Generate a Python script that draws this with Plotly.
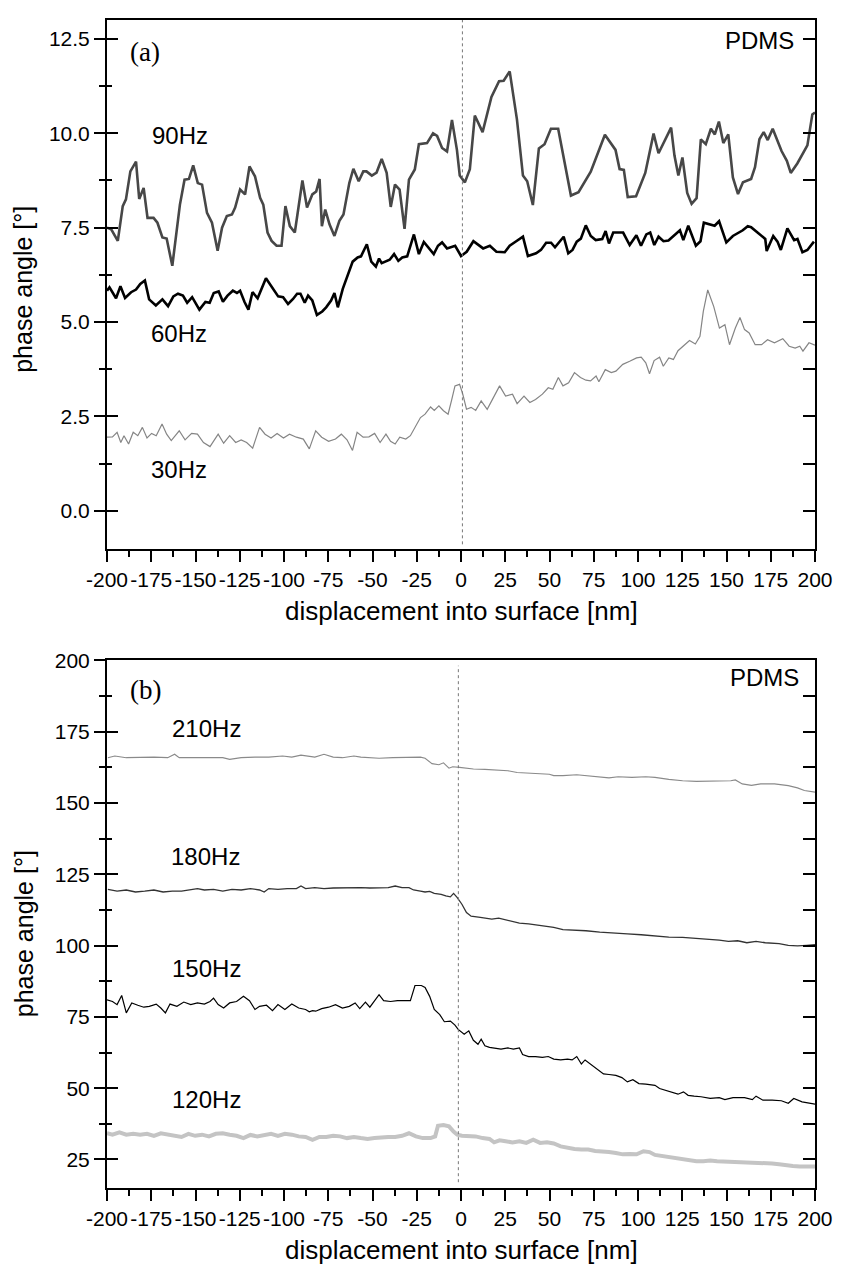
import plotly.graph_objects as go

# ---------------- data (displacement [nm], phase angle [deg]) ----------------
hz90 = [(-200.0,7.50),(-197.7,7.46),(-193.9,7.15),(-191.1,8.07),(-189.3,8.25),(-186.8,8.99),(-183.6,9.25),(-181.8,8.26),(-179.3,8.55),(-177.1,7.76),(-173.7,7.76),(-171.5,7.63),(-168.7,7.24),(-166.3,7.21),(-163.1,6.49),(-161.2,7.28),(-158.8,8.11),(-156.2,8.77),(-153.7,8.79),(-151.3,9.15),(-148.7,8.68),(-146.3,8.64),(-143.5,7.89),(-140.7,7.63),(-137.5,6.89),(-135.0,7.50),(-132.3,7.81),(-129.4,7.85),(-127.6,8.03),(-124.8,8.51),(-122.0,8.38),(-119.5,9.12),(-116.4,8.86),(-113.5,8.29),(-111.7,8.11),(-109.3,7.37),(-107.0,7.15),(-104.2,7.02),(-101.4,7.02),(-99.2,8.07),(-96.7,7.54),(-93.9,7.37),(-89.6,8.75),(-87.0,8.03),(-84.0,8.38),(-81.8,8.46),(-79.9,8.79),(-78.6,7.54),(-76.7,7.98),(-74.3,7.59),(-71.5,7.28),(-68.7,7.68),(-66.4,7.85),(-63.1,8.68),(-60.8,9.06),(-57.8,8.73),(-55.2,8.99),(-53.4,8.99),(-50.4,8.88),(-47.7,8.96),(-44.8,9.32),(-42.0,8.95),(-39.7,8.05),(-37.3,8.64),(-34.7,8.51),(-31.9,7.47),(-29.4,8.77),(-26.1,9.04),(-23.8,9.71),(-19.2,9.74),(-15.8,10.00),(-13.5,9.93),(-10.7,9.61),(-7.9,9.52),(-5.1,10.35),(-2.3,9.56),(-0.7,8.88),(2.2,8.70),(5.0,9.05),(7.8,10.47),(12.2,10.03),(17.2,10.96),(21.5,11.38),(24.1,11.39),(27.5,11.64),(31.6,10.37),(35.0,8.88),(37.4,8.73),(40.6,8.10),(44.0,9.60),(47.2,9.71),(50.8,10.12),(54.9,10.12),(62.1,8.35),(66.4,8.44),(73.3,8.98),(81.3,9.96),(87.3,9.56),(89.6,9.05),(92.0,9.03),(94.2,8.31),(98.9,8.33),(104.1,8.95),(108.8,9.99),(111.6,9.47),(118.7,10.15),(120.6,9.41),(122.8,8.88),(125.1,9.36),(127.8,8.42),(130.3,8.13),(133.1,8.28),(135.5,9.84),(138.3,9.71),(141.2,10.12),(143.4,9.97),(145.7,10.31),(148.2,9.74),(151.0,9.97),(153.6,8.83),(156.5,8.39),(159.3,8.70),(163.9,8.79),(166.1,9.10),(168.6,9.84),(171.0,10.03),(173.3,9.82),(176.1,10.12),(181.1,9.53),(184.1,9.27),(186.3,8.95),(190.0,9.20),(195.7,9.68),(198.5,10.50),(200.0,10.55)]

hz60 = [(-200.0,5.83),(-198.6,5.92),(-194.9,5.63),(-192.4,5.95),(-189.8,5.64),(-186.4,5.79),(-183.6,5.86),(-181.2,6.01),(-178.6,6.10),(-176.2,5.60),(-172.4,5.44),(-168.7,5.60),(-165.5,5.42),(-162.5,5.68),(-159.9,5.75),(-157.1,5.70),(-154.7,5.51),(-151.9,5.66),(-147.8,5.33),(-144.4,5.53),(-142.0,5.51),(-139.7,5.77),(-136.9,5.81),(-134.5,5.54),(-131.9,5.70),(-128.9,5.83),(-126.6,5.77),(-124.8,5.83),(-122.3,5.53),(-120.1,5.33),(-117.8,5.79),(-114.9,5.63),(-110.2,6.16),(-106.4,5.88),(-103.3,5.68),(-100.5,5.66),(-97.7,5.48),(-94.9,5.61),(-92.6,5.75),(-90.7,5.75),(-88.3,5.51),(-86.4,5.70),(-84.0,5.57),(-81.4,5.19),(-78.4,5.28),(-76.2,5.39),(-73.4,5.57),(-71.5,5.77),(-69.6,5.39),(-66.8,5.88),(-64.0,6.27),(-61.2,6.60),(-58.4,6.71),(-56.5,6.74),(-53.2,7.06),(-50.7,6.60),(-48.1,6.47),(-46.3,6.68),(-44.8,6.56),(-42.5,6.60),(-40.3,6.65),(-37.8,6.80),(-35.4,6.62),(-33.2,6.71),(-30.4,6.74),(-26.6,7.32),(-23.8,6.80),(-21.0,7.12),(-18.2,6.97),(-15.4,6.80),(-13.0,7.02),(-10.7,7.11),(-7.9,6.95),(-3.3,7.02),(0.0,6.75),(3.2,6.86),(7.0,7.14),(12.5,6.95),(16.3,7.02),(20.0,6.86),(24.7,6.85),(27.5,7.02),(31.2,7.14),(35.0,7.26),(37.8,6.75),(42.4,6.82),(45.2,6.91),(48.1,7.10),(50.9,7.10),(53.1,6.98),(58.0,7.26),(60.6,6.82),(63.0,6.91),(65.4,7.13),(67.7,7.21),(70.5,7.56),(73.3,7.28),(76.1,7.17),(79.8,7.20),(81.7,7.41),(83.6,7.08),(86.0,7.37),(91.6,7.37),(95.3,7.04),(99.1,7.30),(101.7,7.02),(104.7,7.32),(106.9,7.37),(109.2,7.04),(111.6,7.26),(114.4,7.14),(117.2,7.16),(123.7,7.43),(125.6,7.17),(128.4,7.55),(132.7,7.02),(135.3,7.14),(137.2,7.63),(143.3,7.55),(145.8,7.67),(149.9,7.11),(153.6,7.28),(159.2,7.43),(162.0,7.54),(163.9,7.51),(169.5,7.28),(171.9,7.20),(172.7,6.88),(176.4,7.28),(178.8,7.13),(180.7,6.91),(184.4,7.48),(188.2,7.17),(190.1,7.20),(192.9,6.85),(195.7,6.91),(199.4,7.13)]

hz30 = [(-200.0,1.95),(-196.9,1.96),(-194.3,2.08),(-192.2,1.81),(-190.4,1.99),(-187.8,1.77),(-185.2,2.08),(-182.6,1.99),(-180.0,2.21),(-177.4,1.93),(-174.8,2.05),(-172.2,1.99),(-168.9,2.30),(-166.3,2.03),(-163.7,1.86),(-159.2,2.12),(-155.9,1.88),(-152.2,2.05),(-148.9,2.03),(-145.5,1.81),(-141.8,1.70),(-137.2,2.03),(-134.1,1.79),(-130.7,1.99),(-127.3,1.81),(-124.2,1.88),(-121.1,1.81),(-117.7,1.66),(-113.8,2.21),(-110.7,2.03),(-107.3,1.93),(-103.9,2.05),(-100.3,1.93),(-96.9,2.03),(-93.0,1.95),(-89.1,1.90),(-85.7,1.64),(-82.1,2.12),(-78.7,1.95),(-74.8,1.84),(-70.9,1.90),(-67.6,2.03),(-64.4,1.88),(-61.3,1.60),(-58.7,2.08),(-55.3,1.95),(-52.0,1.96),(-48.8,2.05),(-45.7,1.81),(-42.4,2.03),(-39.8,1.84),(-37.2,1.77),(-34.6,1.95),(-31.2,1.90),(-28.6,1.99),(-26.0,2.21),(-22.9,2.47),(-20.3,2.56),(-17.2,2.75),(-15.1,2.66),(-12.5,2.78),(-9.9,2.65),(-7.3,2.56),(-5.2,2.95),(-3.4,3.31),(-0.8,3.35),(1.0,3.09),(3.1,2.69),(5.7,2.74),(8.3,2.66),(11.4,2.91),(14.8,2.69),(18.2,3.00),(21.8,3.31),(25.2,3.04),(29.1,3.09),(31.7,2.84),(35.6,3.04),(38.9,2.87),(42.1,2.95),(46.0,3.09),(49.3,3.26),(51.9,3.22),(55.0,3.53),(57.6,3.31),(60.8,3.39),(64.1,3.66),(67.5,3.53),(70.6,3.46),(73.2,3.44),(76.3,3.57),(77.9,3.42),(81.5,3.74),(84.9,3.66),(87.5,3.70),(91.4,3.88),(95.3,3.96),(99.2,4.05),(101.8,4.07),(104.4,3.92),(106.5,3.63),(109.1,3.98),(112.2,4.07),(114.3,3.83),(117.4,4.05),(120.0,4.01),(122.6,4.24),(125.7,4.36),(129.1,4.51),(132.4,4.42),(135.0,4.62),(136.9,5.28),(139.4,5.85),(142.8,5.41),(146.0,4.84),(149.1,4.93),(151.7,4.40),(155.0,4.84),(157.6,5.12),(160.2,4.80),(162.8,4.71),(166.2,4.40),(169.8,4.40),(173.2,4.53),(177.1,4.45),(181.8,4.56),(185.4,4.36),(188.8,4.31),(191.4,4.36),(193.2,4.23),(196.6,4.45),(200.0,4.39)]

hz210 = [(-199.5,165.9),(-195.6,166.5),(-189.1,165.9),(-181.3,166.1),(-173.5,166.1),(-165.7,165.9),(-161.8,167.1),(-159.2,165.9),(-150.2,165.9),(-142.4,166.1),(-134.6,165.9),(-130.7,165.3),(-124.2,165.9),(-116.4,166.1),(-108.6,166.1),(-100.8,166.5),(-95.6,166.1),(-90.4,166.8),(-82.6,166.1),(-77.4,167.1),(-72.2,166.1),(-67.0,165.9),(-60.5,166.5),(-56.6,166.1),(-51.5,165.9),(-46.3,165.7),(-38.5,165.9),(-30.7,166.1),(-22.9,166.1),(-20.3,165.7),(-16.4,163.8),(-12.5,163.4),(-9.9,164.1),(-6.8,162.2),(-4.7,162.7),(-0.8,162.5),(3.1,162.2),(7.0,161.9),(13.5,161.8),(21.3,161.5),(26.5,161.3),(31.7,160.7),(42.1,160.4),(49.9,160.1),(52.4,159.6),(57.6,159.6),(65.4,159.9),(70.6,159.6),(78.4,159.2),(83.6,158.8),(88.8,159.2),(96.6,159.0),(104.4,159.2),(109.6,159.0),(117.4,158.3),(125.2,157.8),(133.0,157.6),(143.4,157.6),(152.4,157.8),(155.0,158.1),(158.9,156.7),(164.1,156.2),(169.3,156.7),(177.1,156.7),(184.9,156.1),(190.1,155.3),(194.0,154.4),(200.0,153.8)]

hz180 = [(-199.5,119.7),(-194.3,119.1),(-189.1,119.5),(-183.9,118.8),(-178.7,119.1),(-173.5,119.5),(-168.3,118.8),(-163.1,119.1),(-157.9,119.1),(-152.7,119.5),(-148.9,120.0),(-145.0,119.5),(-139.8,119.7),(-134.6,119.1),(-129.4,119.7),(-124.2,119.5),(-119.0,120.0),(-113.8,119.5),(-111.2,118.8),(-108.6,120.0),(-103.4,119.7),(-98.2,120.0),(-93.0,120.0),(-90.4,120.9),(-87.8,120.0),(-82.6,120.3),(-77.4,120.0),(-72.2,120.2),(-67.0,120.3),(-61.8,120.2),(-56.6,120.3),(-51.5,120.2),(-46.3,120.3),(-41.1,120.3),(-37.2,120.9),(-33.3,120.3),(-29.4,120.3),(-26.8,119.5),(-22.9,119.1),(-20.3,118.8),(-17.7,119.0),(-15.1,118.3),(-11.2,118.0),(-8.6,117.4),(-6.0,117.1),(-4.2,118.3),(-2.1,116.8),(0.5,114.5),(3.1,111.6),(5.7,110.3),(10.9,109.9),(17.4,109.3),(21.3,109.6),(26.5,108.8),(33.0,107.9),(38.2,107.6),(43.4,107.2),(47.3,106.8),(52.4,106.4),(57.6,105.6),(62.8,105.5),(70.6,105.2),(78.4,104.7),(86.2,104.5),(94.0,104.1),(101.8,103.8),(109.6,103.3),(117.4,103.0),(125.2,102.9),(133.0,102.6),(140.8,102.2),(145.9,101.9),(151.1,101.5),(156.3,101.7),(161.5,101.0),(166.7,101.5),(171.9,101.0),(179.7,100.7),(184.9,100.1),(190.1,99.9),(195.3,100.1),(200.0,100.3)]

hz150 = [(-200.0,81.0),(-196.9,80.4),(-194.3,79.3),(-191.7,82.5),(-189.1,76.4),(-186.0,79.9),(-182.6,79.1),(-179.2,78.4),(-176.1,78.7),(-172.2,79.5),(-169.6,78.1),(-167.0,76.4),(-164.4,79.5),(-160.5,78.7),(-156.6,80.2),(-152.7,79.3),(-148.9,79.9),(-145.0,79.5),(-141.8,80.4),(-139.8,81.6),(-137.2,79.3),(-134.1,78.1),(-130.7,79.9),(-126.8,80.4),(-122.9,82.2),(-119.5,80.7),(-116.4,77.6),(-113.8,78.7),(-109.9,79.1),(-106.5,77.2),(-103.4,79.3),(-99.5,77.6),(-95.6,79.5),(-91.7,78.1),(-87.8,77.6),(-85.7,76.8),(-83.9,77.2),(-82.1,77.0),(-78.7,77.9),(-74.8,78.4),(-70.9,79.3),(-67.0,78.1),(-63.1,78.7),(-59.8,79.9),(-57.2,77.9),(-54.0,80.2),(-51.5,78.4),(-48.9,80.7),(-46.3,82.8),(-43.7,80.7),(-39.8,80.4),(-35.9,80.7),(-28.6,80.7),(-26.0,86.0),(-22.4,86.0),(-20.3,85.3),(-17.7,82.2),(-15.1,77.6),(-12.0,75.8),(-9.4,73.3),(-6.0,73.5),(-3.4,72.1),(-1.6,70.6),(1.8,68.9),(4.4,70.1),(7.0,66.8),(9.6,65.4),(11.4,67.2),(13.5,64.9),(16.1,64.3),(18.7,64.1),(22.6,63.7),(26.5,64.1),(29.6,63.7),(33.0,64.1),(34.8,61.8),(38.2,61.1),(42.1,61.1),(46.0,60.8),(49.3,61.1),(52.4,60.2),(56.3,59.9),(60.2,60.2),(62.8,59.9),(65.4,61.1),(68.0,58.5),(70.1,59.9),(73.2,58.5),(77.1,56.8),(80.5,55.0),(83.6,54.8),(87.5,54.5),(90.9,53.7),(94.0,52.2),(97.1,53.0),(100.5,51.6),(104.4,51.4),(109.6,51.0),(112.2,49.9),(115.3,49.3),(118.7,48.4),(122.6,47.9),(125.7,48.7),(128.3,47.5),(131.7,47.2),(135.6,47.0),(140.8,46.4),(145.9,46.7),(149.1,46.0),(153.7,46.7),(160.2,46.7),(164.6,46.0),(166.7,47.2),(170.6,45.8),(175.8,45.8),(181.0,45.6),(184.9,44.7),(188.0,46.4),(192.7,45.2),(196.6,44.7),(200.0,44.4)]

hz120 = [(-200.0,34.2),(-196.9,33.7),(-193.0,34.5),(-189.1,33.7),(-185.2,34.0),(-181.3,33.7),(-177.4,34.0),(-173.5,33.3),(-169.6,34.2),(-165.7,33.7),(-161.8,33.3),(-157.9,32.9),(-154.0,34.0),(-150.2,33.3),(-146.3,33.7),(-142.4,33.1),(-138.5,34.0),(-134.6,34.2),(-130.7,33.7),(-126.8,33.3),(-122.9,32.5),(-119.0,33.6),(-115.1,33.1),(-111.2,33.7),(-107.3,34.0),(-103.4,33.3),(-99.5,34.0),(-95.6,33.7),(-91.7,33.1),(-87.8,32.9),(-83.9,31.9),(-80.0,32.9),(-76.1,32.9),(-72.2,33.3),(-68.3,33.1),(-64.4,32.5),(-60.5,32.9),(-56.6,32.5),(-52.8,32.2),(-48.9,32.5),(-45.0,32.8),(-41.1,32.9),(-37.2,32.9),(-33.3,33.3),(-29.4,34.2),(-25.5,33.1),(-21.6,32.5),(-17.2,32.5),(-14.6,33.1),(-13.0,36.8),(-9.9,37.1),(-6.8,36.6),(-4.2,34.8),(-2.1,33.7),(0.5,33.3),(4.4,33.3),(8.3,33.1),(12.2,32.5),(16.1,32.2),(18.7,31.0),(21.8,31.7),(25.2,31.4),(29.1,31.0),(33.0,31.4),(36.9,30.8),(40.8,31.9),(44.7,30.8),(48.6,31.0),(52.4,30.6),(56.3,29.6),(60.2,29.1),(64.1,28.7),(68.0,28.5),(71.9,28.5),(75.8,28.0),(79.7,27.9),(83.6,27.6),(87.5,27.3),(91.4,26.8),(95.3,26.9),(99.2,26.8),(103.1,27.9),(106.5,27.6),(109.6,26.6),(113.5,26.2),(117.4,25.9),(121.3,25.6),(125.2,25.0),(129.1,24.8),(133.0,24.4),(136.9,24.4),(140.8,24.6),(144.7,24.4),(148.6,24.3),(152.4,24.3),(156.3,24.1),(160.2,24.2),(164.1,24.1),(168.0,23.9),(171.9,23.6),(175.8,23.6),(179.7,23.3),(183.6,22.9),(187.5,22.7),(191.4,22.5),(195.3,22.5),(200.0,22.5)]

x_ticks = [-200, -175, -150, -125, -100, -75, -50, -25, 0, 25, 50, 75, 100, 125, 150, 175, 200]
x_tick_labels = [str(v) for v in x_ticks]  # plain hyphen minus as in the original
surface_a = 0.8    # dotted contact line, panel (a)
surface_b = -1.5   # dotted contact line, panel (b)

# ---------------- styling ----------------
FONT = "Liberation Sans, Arial, sans-serif"
SERIF = "Liberation Serif, Times New Roman, serif"
ML, MR, MT, MB = 107, 21, 8, 81
W, H = 841, 1269
PH = H - MT - MB
dom_a = [(PH - 534) / PH, 1.0]
dom_b = [0.0, 533 / PH]

series_a = [
    (hz90, "#474747", 2.6),
    (hz60, "#000000", 2.6),
    (hz30, "#858585", 1.2),
]
series_b = [
    (hz210, "#8a8a8a", 1.1),
    (hz180, "#333333", 1.3),
    (hz150, "#000000", 1.2),
    (hz120, "#c4c4c4", 4.0),
]

fig = go.Figure()
for data, col, w in series_a:
    xs, ys = zip(*data)
    fig.add_trace(go.Scatter(x=xs, y=ys, mode="lines", line=dict(color=col, width=w),
                             xaxis="x", yaxis="y", showlegend=False))
for data, col, w in series_b:
    xs, ys = zip(*data)
    fig.add_trace(go.Scatter(x=xs, y=ys, mode="lines", line=dict(color=col, width=w),
                             xaxis="x2", yaxis="y2", showlegend=False))
# helper empty traces so overlay axes (inner/right ticks) get drawn
for ya, xa in [("y3", "x"), ("y4", "x"), ("y5", "x2"), ("y6", "x2")]:
    fig.add_trace(go.Scatter(x=[None], y=[None], xaxis=xa, yaxis=ya, showlegend=False,
                             hoverinfo="skip", mode="lines"))

def xaxis_cfg(anchor):
    return dict(
        range=[-200, 200], anchor=anchor, domain=[0, 1],
        tickmode="array", tickvals=x_ticks, ticktext=x_tick_labels,
        ticks="outside", ticklen=11, tickwidth=2, tickcolor="black",
        minor=dict(ticks="outside", ticklen=6, tickwidth=2, tickcolor="black", dtick=12.5, tick0=0),
        showline=True, linewidth=2, linecolor="black", mirror=True,
        showgrid=False, zeroline=False,
        tickfont=dict(family=FONT, size=21, color="black"),
    )

def yaxis_base(rng, dom, dtick, mdtick, fmt, anchor):
    return dict(
        range=rng, domain=dom, anchor=anchor, tick0=0, dtick=dtick, tickformat=fmt,
        ticks="outside", ticklen=11, tickwidth=2, tickcolor="black",
        minor=dict(ticks="outside", ticklen=6, tickwidth=2, tickcolor="black", dtick=mdtick, tick0=0),
        showline=True, linewidth=2, linecolor="black", mirror=True,
        showgrid=False, zeroline=False,
        tickfont=dict(family=FONT, size=21, color="black"),
    )

def yaxis_overlay(rng, dtick, mdtick, base, anchor, side, mlen):
    return dict(
        range=rng, overlaying=base, anchor=anchor, side=side, tick0=0, dtick=dtick,
        ticks="inside", ticklen=11 if side == "left" else 12, tickwidth=2, tickcolor="black",
        minor=dict(ticks="inside", ticklen=mlen, tickwidth=2, tickcolor="black", dtick=mdtick, tick0=0),
        showline=False, showticklabels=False, showgrid=False, zeroline=False,
    )

rng_a = [-1, 13]
rng_b = [15, 200]

fig.update_layout(
    width=W, height=H,
    margin=dict(l=ML, r=MR, t=MT, b=MB),
    paper_bgcolor="white", plot_bgcolor="white",
    font=dict(family=FONT, color="black"),
    xaxis=xaxis_cfg("y"),
    xaxis2=xaxis_cfg("y2"),
    yaxis=yaxis_base(rng_a, dom_a, 2.5, 1.25, ".1f", "x"),
    yaxis2=yaxis_base(rng_b, dom_b, 25, 12.5, "d", "x2"),
    yaxis3=yaxis_overlay(rng_a, 2.5, 1.25, "y", "x", "left", 5),
    yaxis4=yaxis_overlay(rng_a, 2.5, 1.25, "y", "x", "right", 12),
    yaxis5=yaxis_overlay(rng_b, 25, 12.5, "y2", "x2", "left", 5),
    yaxis6=yaxis_overlay(rng_b, 25, 12.5, "y2", "x2", "right", 12),
)

# dotted vertical contact lines
fig.add_shape(type="line", xref="x", yref="y domain", x0=surface_a, x1=surface_a, y0=0.008, y1=1.0,
              line=dict(color="#777777", width=1, dash="dot"))
fig.add_shape(type="line", xref="x2", yref="y2 domain", x0=surface_b, x1=surface_b, y0=0.011, y1=0.99,
              line=dict(color="#777777", width=1, dash="dot"))

def py2paper(py):
    return (H - MB - py) / PH

def px2paper(px):
    return (px - ML) / (W - ML - MR)

ann = []
# axis titles
for cy in (280, 931):
    ann.append(dict(text="phase angle [°]", xref="paper", yref="paper", x=px2paper(23), y=py2paper(cy),
                    textangle=-90, showarrow=False, xanchor="center", yanchor="middle",
                    font=dict(family=FONT, size=25, color="black")))
for cy in (605, 1251):
    ann.append(dict(text="displacement into surface [nm]", xref="paper", yref="paper", x=0.5, y=py2paper(cy),
                    showarrow=False, xanchor="center", yanchor="middle",
                    font=dict(family=FONT, size=26, color="black")))
# panel labels
ann.append(dict(text="(a)", xref="paper", yref="paper", x=px2paper(128), y=py2paper(40), showarrow=False,
                xanchor="left", yanchor="middle", font=dict(family=SERIF, size=27, color="black")))
ann.append(dict(text="(b)", xref="paper", yref="paper", x=px2paper(128), y=py2paper(685), showarrow=False,
                xanchor="left", yanchor="middle", font=dict(family=SERIF, size=27, color="black")))
ann.append(dict(text="PDMS", xref="paper", yref="paper", x=px2paper(801), y=py2paper(29), showarrow=False,
                xanchor="right", yanchor="middle", font=dict(family=FONT, size=24, color="black")))
ann.append(dict(text="PDMS", xref="paper", yref="paper", x=px2paper(806), y=py2paper(672), showarrow=False,
                xanchor="right", yanchor="middle", font=dict(family=FONT, size=24, color="black")))
# frequency labels
for txt, xv, yv, xr, yr in [("90Hz", -175.5, 9.95, "x", "y"), ("60Hz", -176.0, 4.7, "x", "y"),
                            ("30Hz", -176.0, 1.1, "x", "y"),
                            ("210Hz", -164.5, 176.2, "x2", "y2"), ("180Hz", -165.0, 131.2, "x2", "y2"),
                            ("150Hz", -164.5, 91.8, "x2", "y2"), ("120Hz", -164.5, 46.0, "x2", "y2")]:
    ann.append(dict(text=txt, xref=xr, yref=yr, x=xv, y=yv, showarrow=False, xanchor="left",
                    yanchor="middle", font=dict(family=FONT, size=24, color="black")))
fig.update_layout(annotations=ann)

fig.write_html("out.html")
